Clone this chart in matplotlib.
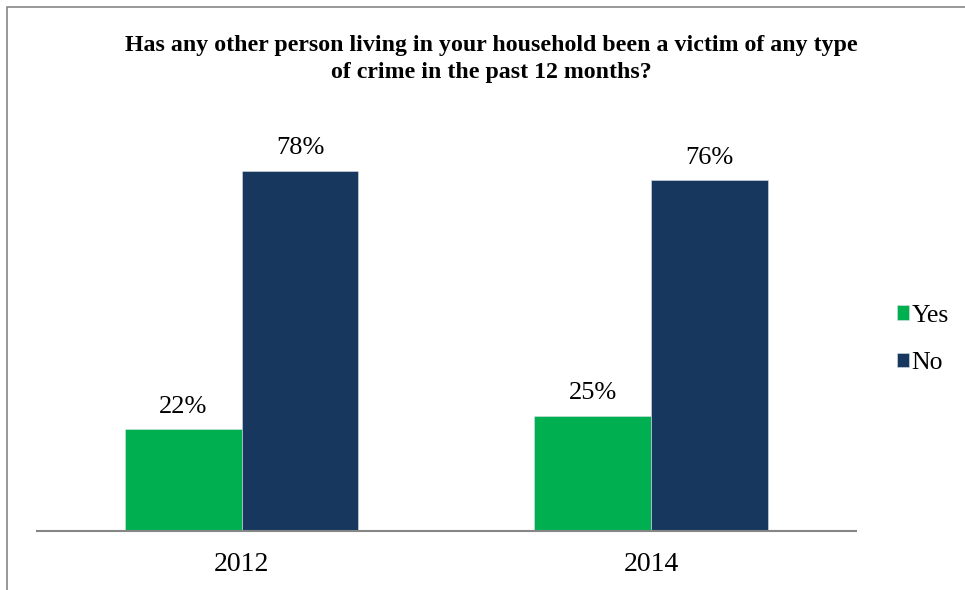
import matplotlib.pyplot as plt
from matplotlib.patches import Rectangle
import numpy as np

plt.rcParams["font.family"] = ["Liberation Serif", "DejaVu Serif"]

years = ["2012", "2014"]
yes_pct = [22, 25]
no_pct = [78, 76]
series_names = ["Yes", "No"]
colors = ["#00B050", "#17375E"]

fig = plt.figure(figsize=(9.65, 5.9), dpi=100)
ax = fig.add_axes([0.0383, 0.1, 0.8487, 0.704])

x = np.arange(len(years))
w = 0.285
b1 = ax.bar(x - w / 2, yes_pct, w, color=colors[0], edgecolor="#D9E1EA", linewidth=0.4, label=series_names[0])
b2 = ax.bar(x + w / 2, no_pct, w, color=colors[1], edgecolor="#D9E1EA", linewidth=0.4, label=series_names[1])

for bars in (b1, b2):
    for rect in bars:
        h = rect.get_height()
        ax.text(rect.get_x() + rect.get_width() / 2, h + 4.9, f"{h:.0f}%",
                ha="center", va="center", fontsize=19)

ax.set_xlim(-0.5, 1.5)
ax.set_ylim(0, 90)
ax.set_xticks(x)
ax.set_xticklabels(years, fontsize=20)
ax.tick_params(axis="x", length=0, pad=15)
ax.set_yticks([])
for side in ("top", "right", "left"):
    ax.spines[side].set_visible(False)
ax.spines["bottom"].set_color("#868686")
ax.spines["bottom"].set_linewidth(1.5)

fig.text(0.509, 0.94, "Has any other person living in your household been a victim of any type\nof crime in the past 12 months?",
         ha="center", va="top", fontsize=17.2, fontweight="bold", linespacing=1.35)

leg = fig.legend(handles=[b1, b2], labels=series_names, loc="center left",
                 bbox_to_anchor=(0.906, 0.4246), frameon=False, fontsize=18.5,
                 handlelength=0.47, handleheight=0.47, handletextpad=0.08, labelspacing=1.0)

# outer chart border
fig.patches.append(Rectangle((7 / 965, -0.1), 1.2, 1.1 - 7 / 590, transform=fig.transFigure,
                             fill=False, edgecolor="#868686", linewidth=1.2))

fig.savefig("out.png", dpi=100)
